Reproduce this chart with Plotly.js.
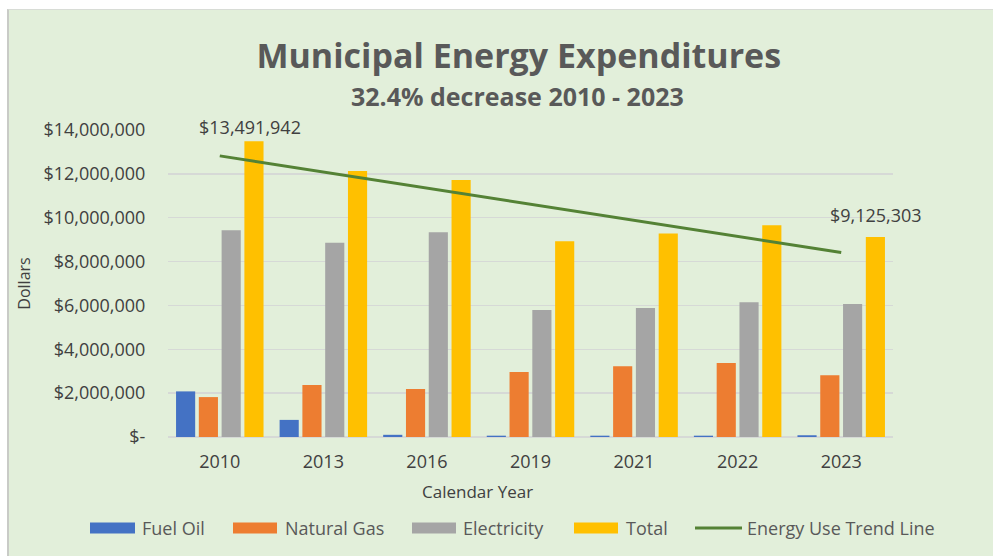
<!DOCTYPE html>
<html>
<head>
<meta charset="utf-8">
<script src="https://cdn.plot.ly/plotly-3.0.1.min.js"></script>
<style>
  html, body { margin: 0; padding: 0; background: #ffffff; overflow: hidden; }
  #frame {
    position: absolute; left: 7px; top: 9px; width: 986px; height: 547px;
    border-left: 2px solid #c9cbc7; border-top: 1px solid #d8dcd6;
    background: #e2efda;
  }
  #chart { width: 986px; height: 547px; }
</style>
</head>
<body>
<div id="frame"><div id="chart"></div></div>
<script>
const years = ['2010', '2013', '2016', '2019', '2021', '2022', '2023'];
const fuelOil = [2080000, 780000, 100000, 60000, 60000, 60000, 80000];
const naturalGas = [1820000, 2370000, 2190000, 2960000, 3230000, 3370000, 2820000];
const electricity = [9430000, 8860000, 9340000, 5790000, 5880000, 6150000, 6060000];
const total = [13491942, 12130000, 11720000, 8930000, 9280000, 9660000, 9125303];

const trendYears = ['2010', '2023'];
const trendValues = [12820000, 8410000];

const yTickVals = [0, 2000000, 4000000, 6000000, 8000000, 10000000, 12000000, 14000000];
const yTickText = ['$-', '$2,000,000', '$4,000,000', '$6,000,000', '$8,000,000',
                   '$10,000,000', '$12,000,000', '$14,000,000'];

const labelYears = ['2010', '2023'];
const labelValues = [13491942, 9125303];
const labelText = ['$13,491,942', '$9,125,303'];

const seriesNames = ['Fuel Oil', 'Natural Gas', 'Electricity', 'Total'];
const seriesColors = ['#4472c4', '#ed7d31', '#a5a5a5', '#ffc000'];
const trendName = 'Energy Use Trend Line';
const trendColor = '#548235';

const textColor = '#595959';
const darkText = '#404040';
const font = 'Open Sans, Liberation Sans, sans-serif';

// plot area geometry (pixels inside the chart div)
const M = { l: 159, r: 102, t: 120, b: 120 };
const W = 986, H = 547;
const plotW = W - M.l - M.r;
const plotH = H - M.t - M.b;
// page pixel -> paper fraction (page x offset 9, page y offset 10)
const px = x => (x - 9 - M.l) / plotW;
const py = y => (H - M.b - (y - 10)) / plotH;

const seriesValues = [fuelOil, naturalGas, electricity, total];

const traces = seriesNames.map((name, i) => ({
    x: years,
    y: seriesValues[i],
    type: 'bar',
    name: name,
    marker: { color: seriesColors[i] },
    hoverinfo: 'skip'
}));

traces.push({
    x: trendYears,
    y: trendValues,
    type: 'scatter',
    mode: 'lines',
    name: trendName,
    line: { color: trendColor, width: 3 },
    hoverinfo: 'skip'
});

const annotations = labelYears.map((yr, i) => ({
    x: years.indexOf(yr),
    y: labelValues[i],
    xref: 'x',
    yref: 'y',
    text: labelText[i],
    showarrow: false,
    xanchor: 'center',
    yanchor: 'bottom',
    xshift: i === 0 ? 30 : 35,
    yshift: i === 0 ? 0 : 8,
    font: { family: font, size: 18, color: darkText }
}));

annotations.push({
    text: '<b>32.4% decrease 2010 - 2023</b>',
    xref: 'paper', yref: 'paper',
    x: px(517), y: py(96),
    xanchor: 'center', yanchor: 'middle',
    showarrow: false,
    font: { family: font, size: 25, color: textColor }
});

annotations.push({
    text: 'Calendar Year',
    xref: 'paper', yref: 'paper',
    x: px(477), y: py(491),
    xanchor: 'center', yanchor: 'middle',
    showarrow: false,
    font: { family: font, size: 17, color: darkText }
});

// legend, drawn as shapes + text to get the wide swatches
const swatchX = [[90, 135], [233, 277], [412, 456], [574, 618]];
const legendTextX = [140, 283, 461, 624];
const shapes = [];
seriesNames.forEach((name, i) => {
    shapes.push({
        type: 'rect', xref: 'paper', yref: 'paper',
        x0: px(swatchX[i][0]), x1: px(swatchX[i][1]),
        y0: py(533.5), y1: py(522.5),
        fillcolor: seriesColors[i], line: { width: 0 }
    });
    annotations.push({
        text: name, xref: 'paper', yref: 'paper',
        x: px(legendTextX[i]), y: py(528),
        xanchor: 'left', yanchor: 'middle', showarrow: false,
        font: { family: font, size: 18, color: textColor }
    });
});
shapes.push({
    type: 'line', xref: 'paper', yref: 'paper',
    x0: px(695), x1: px(742), y0: py(528), y1: py(528),
    line: { color: trendColor, width: 3 }
});
annotations.push({
    text: trendName, xref: 'paper', yref: 'paper',
    x: px(745), y: py(528),
    xanchor: 'left', yanchor: 'middle', showarrow: false,
    font: { family: font, size: 18, color: textColor }
});

const layout = {
    width: W,
    height: H,
    paper_bgcolor: '#e2efda',
    plot_bgcolor: '#e2efda',
    margin: M,
    showlegend: false,
    font: { family: font, color: textColor },
    title: {
        text: '<b>Municipal Energy Expenditures</b>',
        x: 0.517, xref: 'container', xanchor: 'center',
        y: 1 - 46 / H, yref: 'container', yanchor: 'middle',
        font: { family: font, size: 34, color: textColor }
    },
    barmode: 'group',
    bargap: 0.12,
    bargroupgap: 0.16,
    xaxis: {
        type: 'category',
        range: [-0.5, years.length - 0.5],
        showgrid: false,
        showline: false,
        ticks: 'outside',
        ticklen: 8,
        tickcolor: 'rgba(0,0,0,0)',
        tickfont: { family: font, size: 18, color: darkText }
    },
    yaxis: {
        range: [0, 14000000],
        tickvals: yTickVals,
        ticktext: yTickText,
        showgrid: true,
        gridcolor: '#d6d9d6',
        gridwidth: 1.5,
        zeroline: true,
        zerolinecolor: '#d6d9d6',
        zerolinewidth: 1.5,
        ticks: 'outside',
        ticklen: 18,
        tickcolor: 'rgba(0,0,0,0)',
        tickfont: { family: font, size: 18, color: darkText },
        title: {
            text: 'Dollars',
            standoff: 8,
            font: { family: font, size: 16, color: darkText }
        }
    },
    shapes: shapes,
    annotations: annotations
};

Plotly.newPlot('chart', traces, layout, { displayModeBar: false, staticPlot: true });
</script>
</body>
</html>
